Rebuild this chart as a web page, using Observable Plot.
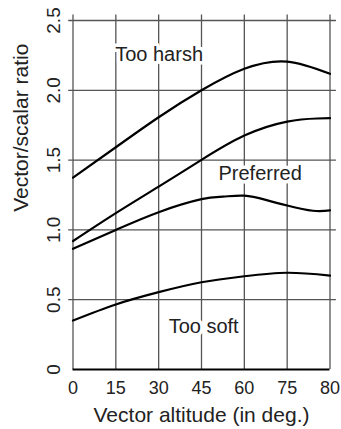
<!DOCTYPE html>
<html><head><meta charset="utf-8">
<script src="https://cdn.jsdelivr.net/npm/d3@7"></script>
<script src="https://cdn.jsdelivr.net/npm/@observablehq/plot@0.6"></script>
<style>body{margin:0;background:#fff} svg{display:block}</style>
</head><body><div id="chart"></div>
<script>
// x axis ticks are equally spaced on the original figure (0..75 by 15, then 80)
const xTickLabels = ["0","15","30","45","60","75","80"];
const xTickPos = [0,1,2,3,4,5,6];
const yTicks = [0,0.5,1,1.5,2,2.5];
const yTickLabels = ["0","0.5","1.0","1.5","2.0","2.5"];

// boundary curves (x in tick-slot units)
const harshX = [0,1,2,3,4,5,6];
const harshY = [1.375,1.592,1.807,2.0,2.154,2.206,2.118];
const prefUpperX = [0,1,2,3,4,5,5.7,6];
const prefUpperY = [0.92,1.12,1.31,1.502,1.676,1.776,1.798,1.80];
const prefLowerX = [0,1,2,3,3.5,4,4.5,5,5.6,6];
const prefLowerY = [0.865,1.0,1.127,1.22,1.238,1.245,1.215,1.175,1.137,1.14];
const softX = [0,1,2,3,4,5,6];
const softY = [0.351,0.466,0.554,0.625,0.668,0.693,0.673];

const zoneLabels = ["Too harsh","Preferred","Too soft"];
const zoneX = [2.01,4.37,3.05];
const zoneY = [2.256,1.404,0.308];

const font = "'Liberation Sans', Arial, sans-serif";
const curves = [[harshX,harshY],[prefUpperX,prefUpperY],[prefLowerX,prefLowerY],[softX,softY]];

const plot = Plot.plot({
  width: 341, height: 429,
  marginLeft: 72.5, marginRight: 11.5, marginTop: 20, marginBottom: 60,
  x: {domain: [0,6], axis: null},
  y: {domain: [0,2.5], axis: null},
  style: {fontFamily: font, background: "white"},
  marks: [
    Plot.ruleX(xTickPos, {x: d => d, y1: 0, y2: 2.54, stroke: "#555", strokeWidth: 1.3}),
    Plot.ruleY(yTicks.filter(v => v > 0), {y: d => d, x1: -0.1, x2: 6.15, stroke: "#555", strokeWidth: 1.3}),
    ...curves.map(([xs, ys]) => Plot.line(xs, {x: d => d, y: (d, i) => ys[i], curve: "natural", stroke: "#000", strokeWidth: 2.2})),
    Plot.ruleY([0], {y: d => d, x1: 0, x2: 6, stroke: "#000", strokeWidth: 2.2}),
    Plot.text(zoneLabels, {x: (d,i) => zoneX[i], y: (d,i) => zoneY[i], text: d => d, fontSize: 20, fill: "#222", stroke: "white", strokeWidth: 7, lineAnchor: "middle"}),
    Plot.text(yTicks, {y: d => d, text: (d,i) => yTickLabels[i], frameAnchor: "left", dx: -19, rotate: -90, fontSize: 19, fill: "#222", textAnchor: "middle", lineAnchor: "middle"}),
    Plot.text(xTickPos, {x: d => d, text: (d,i) => xTickLabels[i], frameAnchor: "bottom", dy: 19, fontSize: 18, fill: "#222", lineAnchor: "middle"}),
    Plot.text(["Vector altitude (in deg.)"], {x: 3, text: d => d, frameAnchor: "bottom", dy: 46, fontSize: 21, fill: "#222", lineAnchor: "middle"}),
    Plot.text(["Vector/scalar ratio"], {y: 1.13, text: d => d, frameAnchor: "left", dx: -52, rotate: -90, fontSize: 21, fill: "#222", lineAnchor: "middle"})
  ]
});
document.getElementById("chart").appendChild(plot);
</script>
</body></html>
